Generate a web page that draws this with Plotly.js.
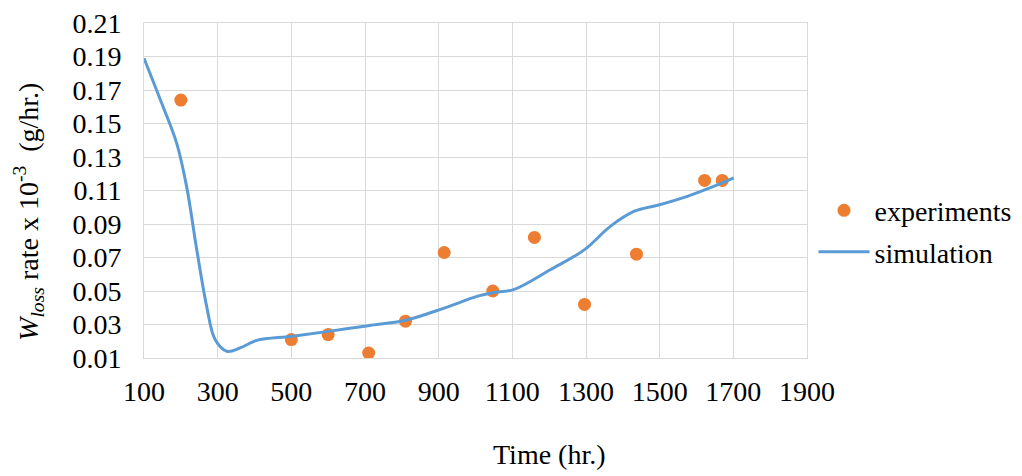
<!DOCTYPE html>
<html>
<head>
<meta charset="utf-8">
<script src="https://cdn.plot.ly/plotly-3.0.1.min.js"></script>
<style>html,body{margin:0;padding:0;background:#fff;}#chart{width:1022px;height:476px;}</style>
</head>
<body>
<div id="chart"></div>
<script>
// Experimental measurements
var expTime = [200, 500, 600, 710, 810, 915, 1047, 1160, 1296, 1437, 1622, 1670];
var expRate = [0.164, 0.021, 0.024, 0.013, 0.032, 0.073, 0.050, 0.082, 0.042, 0.072, 0.116, 0.116];

// Simulation curve
var simTime = [100, 150, 189, 216, 243, 270, 293, 325, 361, 406, 499, 601, 709, 810, 915, 1004, 1047, 1103, 1203, 1296, 1366, 1430, 1500, 1575, 1670, 1701];
var simRate = [0.189, 0.161, 0.138, 0.112, 0.075, 0.041, 0.021, 0.014, 0.016, 0.0205, 0.0229, 0.0259, 0.0293, 0.0325, 0.0398, 0.0468, 0.049, 0.0508, 0.0627, 0.0747, 0.0886, 0.0975, 0.1015, 0.1065, 0.1145, 0.1175];

var xTickVals = [100, 300, 500, 700, 900, 1100, 1300, 1500, 1700, 1900];
var yTickVals = [0.01, 0.03, 0.05, 0.07, 0.09, 0.11, 0.13, 0.15, 0.17, 0.19, 0.21];

var FONT = "Liberation Serif";

var traces = [
  {
    x: expTime, y: expRate, type: 'scatter', mode: 'markers', name: 'experiments', legendgroup: 'exp',
    marker: {color: '#ED7D31', size: 13}
  },
  {
    x: simTime, y: simRate, type: 'scatter', mode: 'lines', name: 'simulation', legendgroup: 'sim',
    line: {color: '#5B9BD5', width: 3, shape: 'spline', smoothing: 1}
  }
];

var layout = {
  width: 1022, height: 476,
  margin: {l: 144, r: 215, t: 23, b: 118},
  paper_bgcolor: '#fff', plot_bgcolor: '#fff',
  font: {family: FONT, size: 28, color: '#000'},
  showlegend: true,
  legend: {
    traceorder: 'grouped', tracegroupgap: 2,
    xref: 'container', yref: 'container',
    x: 0.796, y: 0.610, xanchor: 'left', yanchor: 'top',
    font: {family: FONT, size: 28, color: '#000'},
    itemwidth: 51, bgcolor: 'rgba(0,0,0,0)'
  },
  xaxis: {
    range: [100, 1900], tickvals: xTickVals, ticktext: xTickVals.map(String),
    showgrid: true, gridcolor: '#D9D9D9', gridwidth: 1,
    showline: true, linecolor: '#D9D9D9', linewidth: 1, mirror: true,
    zeroline: false, ticks: '', ticklabelstandoff: 8,
    tickfont: {family: FONT, size: 28, color: '#000'}
  },
  yaxis: {
    range: [0.01, 0.21], tickvals: yTickVals, ticktext: yTickVals.map(function(v){return v.toFixed(2);}),
    showgrid: true, gridcolor: '#D9D9D9', gridwidth: 1,
    showline: true, linecolor: '#D9D9D9', linewidth: 1, mirror: true,
    zeroline: false, ticks: '', ticklabelstandoff: 16,
    tickfont: {family: FONT, size: 28, color: '#000'}
  },
  annotations: [
    {text: 'Time (hr.)', xref: 'paper', yref: 'paper', x: 0.6112, y: -0.235, xanchor: 'center', yanchor: 'top',
     showarrow: false, font: {family: FONT, size: 28, color: '#000'}},
    {text: '<i>W</i><sub><i>loss</i></sub> rate x 10<sup>-3</sup> \u00a0(g/hr.)', xref: 'paper', yref: 'paper',
     x: -0.1735, y: 0.436, xanchor: 'center', yanchor: 'middle', textangle: -90,
     showarrow: false, font: {family: FONT, size: 28, color: '#000'}}
  ]
};

Plotly.newPlot('chart', traces, layout, {displayModeBar: false, staticPlot: true});
</script>
</body>
</html>
